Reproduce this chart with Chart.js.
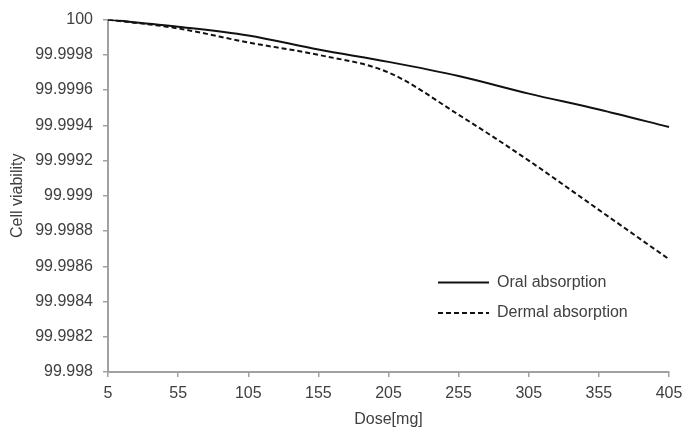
<!DOCTYPE html>
<html>
<head>
<meta charset="utf-8">
<script src="https://cdn.jsdelivr.net/npm/chart.js@4"></script>
<style>
  html, body { margin: 0; padding: 0; background: #fff; }
  #wrap { width: 696px; height: 431px; }
</style>
</head>
<body>
<div id="wrap"><canvas id="myChart" width="696" height="431"></canvas></div>
<script>
const ctx = document.getElementById('myChart').getContext('2d');

// dosis (mg)
const doses = ['5', '55', '105', '155', '205', '255', '305', '355', '405'];
// viabilidad celular
const oral = [100, 99.99996, 99.99991, 99.99983, 99.99976, 99.99968, 99.99958, 99.99949, 99.99939];
const dermal = [100, 99.99995, 99.99987, 99.9998, 99.9997, 99.99946, 99.9992, 99.99892, 99.99864];
const yTicks = [99.998, 99.9982, 99.9984, 99.9986, 99.9988, 99.999, 99.9992, 99.9994, 99.9996, 99.9998, 100];
const yTickLabels = ['99.998', '99.9982', '99.9984', '99.9986', '99.9988', '99.999', '99.9992', '99.9994', '99.9996', '99.9998', '100'];

const font = 'Liberation Sans, Arial, sans-serif';
const axisColor = '#a0a0a0';
const textColor = '#404040';

// leyenda dibujada dentro del area
const legendInside = {
    id: 'legendInside',
    afterDraw(chart) {
        const c = chart.ctx;
        const rows = [282.5, 313];
        c.save();
        chart.data.datasets.forEach(function (ds, i) {
            c.beginPath();
            c.strokeStyle = ds.borderColor;
            c.lineWidth = ds.borderWidth;
            c.setLineDash(ds.borderDash || []);
            c.moveTo(438, rows[i]);
            c.lineTo(489, rows[i]);
            c.stroke();
            c.setLineDash([]);
            c.fillStyle = textColor;
            c.font = '16px ' + font;
            c.textBaseline = 'middle';
            c.fillText(ds.label, 497, rows[i]);
        });
        c.restore();
    }
};

const myChart = new Chart(ctx, {
    type: 'line',
    data: {
        labels: doses,
        datasets: [{
            label: 'Oral absorption',
            data: oral,
            borderColor: '#111',
            borderWidth: 2,
            pointRadius: 0,
            cubicInterpolationMode: 'monotone',
            fill: false
        }, {
            label: 'Dermal absorption',
            data: dermal,
            borderColor: '#111',
            borderWidth: 2,
            borderDash: [5, 3],
            pointRadius: 0,
            cubicInterpolationMode: 'monotone',
            fill: false
        }]
    },
    options: {
        responsive: false,
        animation: false,
        layout: { padding: { top: 19, right: 27, bottom: 0, left: 0 } },
        plugins: {
            legend: { display: false },
            tooltip: { enabled: false }
        },
        scales: {
            x: {
                grid: { drawOnChartArea: false, drawTicks: true, tickLength: 5, color: axisColor, lineWidth: 1.5 },
                border: { display: true, color: axisColor, width: 2 },
                ticks: { color: textColor, font: { family: font, size: 16 }, padding: 7, maxRotation: 0 },
                title: { display: true, text: 'Dose[mg]', color: textColor, font: { family: font, size: 16 }, padding: { top: 0, bottom: 2 } },
                afterFit: function (scale) { scale.height = 59; }
            },
            y: {
                min: 99.998,
                max: 100,
                afterBuildTicks: function (scale) {
                    scale.ticks = yTicks.map(function (v) { return { value: v }; });
                },
                grid: { drawOnChartArea: false, drawTicks: true, tickLength: 5, color: axisColor, lineWidth: 1.5 },
                border: { display: true, color: axisColor, width: 2 },
                ticks: {
                    color: textColor,
                    font: { family: font, size: 16 },
                    padding: 10,
                    callback: function (value, index) { return yTickLabels[index]; }
                },
                title: { display: true, text: 'Cell viability', color: textColor, font: { family: font, size: 16 }, padding: { top: 8, bottom: 0 } },
                afterFit: function (scale) { scale.width = 108; }
            }
        }
    },
    plugins: [legendInside]
});
</script>
</body>
</html>
